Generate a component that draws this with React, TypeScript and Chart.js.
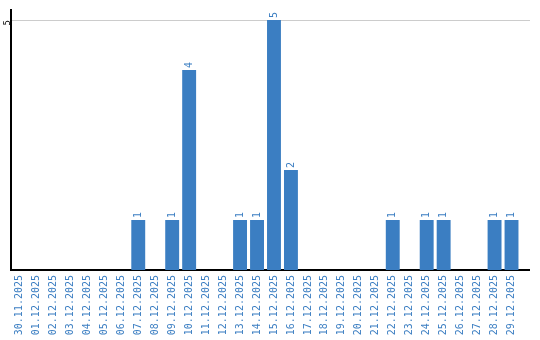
import React, { useEffect, useRef } from "react";
import { Chart, registerables } from "chart.js";

Chart.register(...registerables);

const categories: string[] = [
  "30.11.2025", "01.12.2025", "02.12.2025", "03.12.2025", "04.12.2025", "05.12.2025",
  "06.12.2025", "07.12.2025", "08.12.2025", "09.12.2025", "10.12.2025", "11.12.2025",
  "12.12.2025", "13.12.2025", "14.12.2025", "15.12.2025", "16.12.2025", "17.12.2025",
  "18.12.2025", "19.12.2025", "20.12.2025", "21.12.2025", "22.12.2025", "23.12.2025",
  "24.12.2025", "25.12.2025", "26.12.2025", "27.12.2025", "28.12.2025", "29.12.2025",
];

const counts: (number | null)[] = [
  null, null, null, null, null, null,
  null, 1, null, 1, 4, null,
  null, 1, 1, 5, 2, null,
  null, null, null, null, 1, null,
  1, 1, null, null, 1, 1,
];

const yTicks: number[] = [5];

const BLUE = "#3b7ec2";
const FONT = "DejaVu Sans Mono";

const valueLabels = {
  id: "valueLabels",
  afterDatasetsDraw(chart: any) {
    const ctx = chart.ctx;
    const meta = chart.getDatasetMeta(0);
    const data = chart.data.datasets[0].data;
    ctx.save();
    ctx.fillStyle = BLUE;
    ctx.font = `10px "${FONT}"`;
    ctx.textAlign = "left";
    ctx.textBaseline = "middle";
    meta.data.forEach((bar: any, i: number) => {
      const v = data[i];
      if (v == null) return;
      ctx.save();
      ctx.translate(bar.x, bar.y - 2);
      ctx.rotate(-Math.PI / 2);
      ctx.fillText(String(v), 0, 0);
      ctx.restore();
    });
    ctx.restore();
  },
};

const extendLines = {
  id: "extendLines",
  afterDraw(chart: any) {
    const ctx = chart.ctx;
    const { right, bottom } = chart.chartArea;
    const y = chart.scales.y;
    ctx.save();
    ctx.lineWidth = 1;
    ctx.strokeStyle = "#cccccc";
    yTicks.forEach((t) => {
      const py = Math.round(y.getPixelForValue(t)) + 0.5;
      ctx.beginPath();
      ctx.moveTo(right, py);
      ctx.lineTo(right + 10, py);
      ctx.stroke();
    });
    ctx.strokeStyle = "#000000";
    ctx.lineWidth = 2;
    ctx.beginPath();
    ctx.moveTo(right - 1, bottom);
    ctx.lineTo(right + 10, bottom);
    ctx.stroke();
    ctx.restore();
  },
};

export default function App() {
  const ref = useRef<HTMLCanvasElement | null>(null);
  useEffect(() => {
    if (!ref.current) return;
    const chart = new Chart(ref.current, {
      type: "bar",
      data: {
        labels: categories,
        datasets: [
          {
            data: counts,
            backgroundColor: BLUE,
            borderWidth: 0,
            categoryPercentage: 1,
            barPercentage: 0.82,
          },
        ],
      },
      options: {
        animation: false,
        responsive: false,
        maintainAspectRatio: false,
        layout: { padding: { top: 10, right: 20, left: 0, bottom: 0 } },
        plugins: {
          legend: { display: false },
          tooltip: { enabled: false },
          title: { display: false },
        },
        scales: {
          x: {
            grid: { display: false, drawTicks: false },
            border: { display: true, color: "#000000", width: 2 },
            ticks: {
              color: BLUE,
              font: { family: FONT, size: 10 },
              minRotation: 90,
              maxRotation: 90,
              autoSkip: false,
              padding: 5,
            },
            afterFit: (s: any) => {
              s.height = 70;
            },
          },
          y: {
            min: 0,
            max: 5.2,
            afterBuildTicks: (s: any) => {
              s.ticks = yTicks.map((v) => ({ value: v }));
            },
            grid: { color: "#cccccc", drawTicks: false },
            border: { display: true, color: "#000000", width: 2 },
            ticks: {
              color: "#000000",
              font: { family: FONT, size: 9 },
              minRotation: 90,
              maxRotation: 90,
              padding: 3,
            },
            afterFit: (s: any) => {
              s.width = 11;
            },
          },
        },
      },
      plugins: [valueLabels, extendLines],
    });
    return () => chart.destroy();
  }, []);
  return (
    <div style={{ position: "fixed", left: 0, top: 0, width: 540, height: 340, background: "#fff" }}>
      <canvas ref={ref} width={540} height={340} style={{ width: 540, height: 340 }} />
    </div>
  );
}
